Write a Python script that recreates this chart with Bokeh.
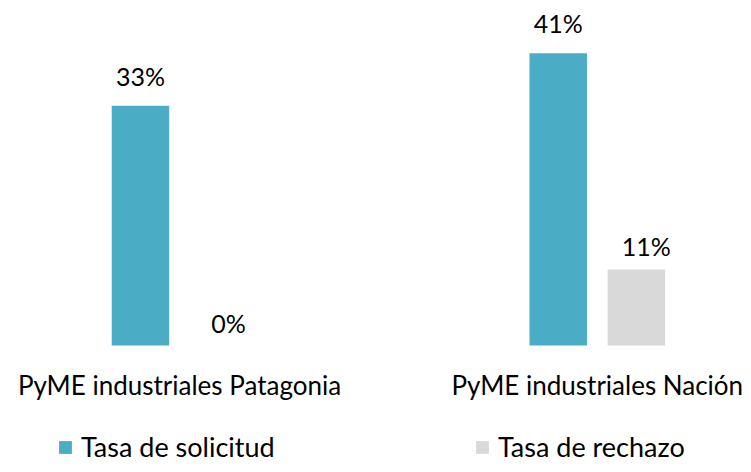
from bokeh.plotting import figure
from bokeh.models import ColumnDataSource, Range1d, Legend, LegendItem
from bokeh.transform import dodge
from bokeh.core.properties import value
from bokeh.embed import file_html
from bokeh.resources import INLINE

# ---- data ----
groups = ["PyME industriales Patagonia", "PyME industriales Nación"]
series = ["Tasa de solicitud", "Tasa de rechazo"]
solicitud = [33.4, 40.7]
rechazo = [0.0, 10.6]

BLUE = "#4BACC6"
GREY = "#D9D9D9"
FONT = "Lato"

src = ColumnDataSource(dict(
    x=list(range(len(groups))),
    group=groups,
    sol=solicitud,
    rech=rechazo,
    sol_lbl=[f"{round(v):.0f}%" for v in solicitud],
    rech_lbl=[f"{round(v):.0f}%" for v in rechazo],
    zero=[0] * len(groups),
))

p = figure(width=743, height=464, output_backend="svg", toolbar_location=None,
           x_range=Range1d(-0.4285, 1.350), y_range=Range1d(-16.57, 48.05),
           min_border=0, outline_line_color=None)
p.axis.visible = False
p.grid.visible = False
p.background_fill_color = "white"

off = 0.0935
w = 0.1376
r1 = p.vbar(x=dodge("x", -off), top="sol", bottom=0, width=w, source=src,
            fill_color=BLUE, line_color=None)
r2 = p.vbar(x=dodge("x", off), top="rech", bottom=0, width=w, source=src,
            fill_color=GREY, line_color=None)

# value labels
p.text(x=dodge("x", -off), y="sol", text="sol_lbl", source=src,
       text_font=value(FONT), text_font_size="25px", text_color="black",
       text_align="center", text_baseline="alphabetic", y_offset=-30)
p.text(x=dodge("x", off), y="rech", text="rech_lbl", source=src,
       text_font=value(FONT), text_font_size="25px", text_color="black",
       text_align="center", text_baseline="alphabetic", y_offset=-23, x_offset=10)

# category labels
p.text(x="x", y="zero", text="group", source=src,
       text_font=value(FONT), text_font_size="26px", text_color="black",
       text_align="center", text_baseline="alphabetic", y_offset=39)

# legends
for r, name, loc in [(r1, series[0], (57, 1)), (r2, series[1], (474, 1))]:
    lg = Legend(items=[LegendItem(label=name, renderers=[r])], location=loc,
                orientation="horizontal", glyph_width=16, glyph_height=16,
                label_standoff=8, padding=0, margin=0, spacing=0,
                border_line_color=None, background_fill_alpha=0,
                label_text_font=FONT, label_text_font_size="27px",
                label_text_color="black", label_text_baseline="middle")
    p.add_layout(lg, "center")

open("out.html", "w").write(file_html(p, INLINE))
